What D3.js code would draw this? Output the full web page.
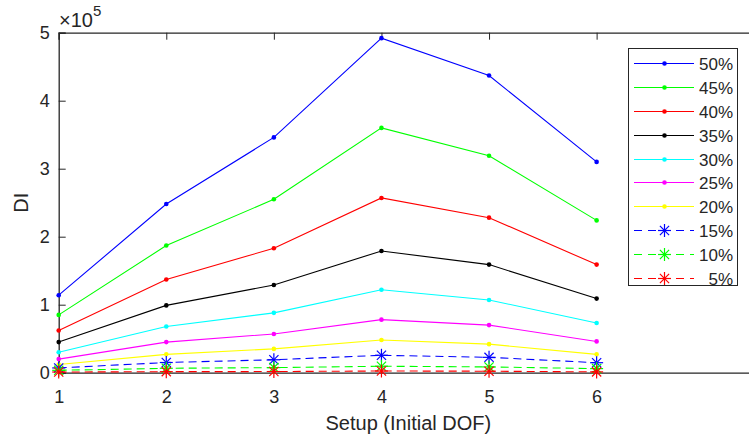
<!DOCTYPE html>
<html>
<head>
<meta charset="utf-8">
<script src="https://cdn.jsdelivr.net/npm/d3@7"></script>
<style>
  body { margin: 0; background: #fff; }
  text { font-family: "Liberation Sans", Arial, sans-serif; fill: #262626; }
</style>
</head>
<body>
<div id="chart"></div>
<script>
// setups on the x axis
var setups = [1, 2, 3, 4, 5, 6];
var xTicks = [1, 2, 3, 4, 5, 6];
var yTicks = [0, 1e5, 2e5, 3e5, 4e5, 5e5];

// DI values per percentage (x 1e5)
var s50 = [1.14, 2.48, 3.46, 4.92, 4.37, 3.10];
var s45 = [0.85, 1.87, 2.55, 3.60, 3.19, 2.24];
var s40 = [0.62, 1.37, 1.83, 2.57, 2.28, 1.59];
var s35 = [0.45, 0.99, 1.29, 1.79, 1.59, 1.09];
var s30 = [0.30, 0.68, 0.88, 1.22, 1.07, 0.73];
var s25 = [0.20, 0.45, 0.57, 0.78, 0.70, 0.46];
var s20 = [0.12, 0.27, 0.35, 0.48, 0.42, 0.27];
var s15 = [0.07, 0.15, 0.19, 0.256, 0.226, 0.147];
var s10 = [0.035, 0.065, 0.075, 0.095, 0.085, 0.06];
var s05 = [0.01, 0.015, 0.017, 0.025, 0.022, 0.012];

var seriesNames = ['50%', '45%', '40%', '35%', '30%', '25%', '20%', '15%', '10%', '5%'];
var seriesValues = [s50, s45, s40, s35, s30, s25, s20, s15, s10, s05];
var seriesColors = ['#0000ff', '#00ff00', '#ff0000', '#000000', '#00ffff', '#ff00ff', '#ffff00', '#0000ff', '#00ff00', '#ff0000'];
var seriesStar = [false, false, false, false, false, false, false, true, true, true];

var width = 749,
    height = 439,
    margin = { left: 58.7, top: 32.7, right: -9, bottom: 66.3 };

var chartWidth = width - margin.left - margin.right;
var chartHeight = height - margin.top - margin.bottom;

var svg = d3.select('#chart').append('svg')
    .attr('width', width)
    .attr('height', height);

var xScale = d3.scaleLinear().domain([1, 7.5]).range([margin.left, margin.left + chartWidth]);
var yScale = d3.scaleLinear().domain([0, 5e5]).range([margin.top + chartHeight, margin.top]);

// axes (ticks point inward like matlab)
var xAxis = d3.axisBottom(xScale).tickValues(xTicks).tickSize(-7).tickPadding(18).tickFormat(d3.format('d'));
var xAxisTop = d3.axisTop(xScale).tickValues(xTicks).tickSize(-7).tickFormat('');
var yAxis = d3.axisLeft(yScale).tickValues(yTicks).tickSize(-7).tickPadding(9).tickFormat((d) => d / 1e5);

var gx = svg.append('g').attr('transform', 'translate(0,' + (margin.top + chartHeight) + ')').call(xAxis);
var gxt = svg.append('g').attr('transform', 'translate(0,' + margin.top + ')').call(xAxisTop);
var gy = svg.append('g').attr('transform', 'translate(' + margin.left + ',0)').call(yAxis);

[gx, gxt, gy].forEach(function(g) {
    g.select('.domain').attr('stroke', '#262626').attr('stroke-width', 1.3);
    g.selectAll('.tick line').attr('stroke', '#262626').attr('stroke-width', 1);
    g.selectAll('.tick text').style('font-size', '18px').attr('fill', '#262626')
        .style('font-family', '"Liberation Sans", Arial, sans-serif');
});

// exponent label
var expo = svg.append('text').attr('x', 59).attr('y', 27).style('font-size', '20px');
expo.append('tspan').text('\u00d7').style('font-weight', 'lighter');
expo.append('tspan').text('10');
expo.append('tspan').attr('dy', -11).style('font-size', '15px').text('5');

// axis titles
svg.append('text')
    .attr('x', xScale(4.25)).attr('y', 430)
    .attr('text-anchor', 'middle')
    .style('font-size', '20px')
    .text('Setup (Initial DOF)');

svg.append('text')
    .attr('transform', 'translate(28,' + (margin.top + chartHeight / 2) + ') rotate(-90)')
    .attr('text-anchor', 'middle')
    .style('font-size', '20px')
    .text('DI');

var line = d3.line()
    .x((d, i) => xScale(setups[i]))
    .y((d) => yScale(d * 1e5));

function star(g, cx, cy, r, color) {
    var a = r * 0.7071;
    var p = [[-r, 0, r, 0], [0, -r, 0, r], [-a, -a, a, a], [-a, a, a, -a]];
    g.selectAll(null).data(p).enter().append('line')
        .attr('x1', (d) => cx + d[0]).attr('y1', (d) => cy + d[1])
        .attr('x2', (d) => cx + d[2]).attr('y2', (d) => cy + d[3])
        .attr('stroke', color).attr('stroke-width', 1.2);
}

var plotG = svg.append('g');

seriesValues.forEach(function(vals, k) {
    var g = plotG.append('g');
    g.append('path')
        .attr('d', line(vals))
        .attr('fill', 'none')
        .attr('stroke', seriesColors[k])
        .attr('stroke-width', 1.1)
        .attr('stroke-dasharray', seriesStar[k] ? '8,5' : null);
    vals.forEach(function(v, i) {
        if (seriesStar[k]) {
            star(g, xScale(setups[i]), yScale(v * 1e5), 6.5, seriesColors[k]);
        } else {
            g.append('circle')
                .attr('cx', xScale(setups[i])).attr('cy', yScale(v * 1e5))
                .attr('r', 2.3).attr('fill', seriesColors[k]);
        }
    });
});

// legend
var legend = svg.append('g');
legend.append('rect')
    .attr('x', 628.5).attr('y', 48.5).attr('width', 109).attr('height', 237)
    .attr('fill', '#fff').attr('stroke', '#262626').attr('stroke-width', 1);

seriesNames.forEach(function(name, k) {
    var y = Math.round(63.3 + k * 23.8) + 0.5;
    legend.append('line')
        .attr('x1', 634).attr('x2', 694).attr('y1', y).attr('y2', y)
        .attr('stroke', seriesColors[k]).attr('stroke-width', 1)
        .attr('stroke-dasharray', seriesStar[k] ? '8,6' : null);
    if (seriesStar[k]) {
        star(legend, 664.5, y, 6.5, seriesColors[k]);
    } else {
        legend.append('circle').attr('cx', 664.5).attr('cy', y).attr('r', 2.3).attr('fill', seriesColors[k]);
    }
    legend.append('text')
        .attr('x', 733).attr('y', y)
        .attr('dy', '0.36em')
        .attr('text-anchor', 'end')
        .style('font-size', '17px')
        .text(name);
});
</script>
</body>
</html>
